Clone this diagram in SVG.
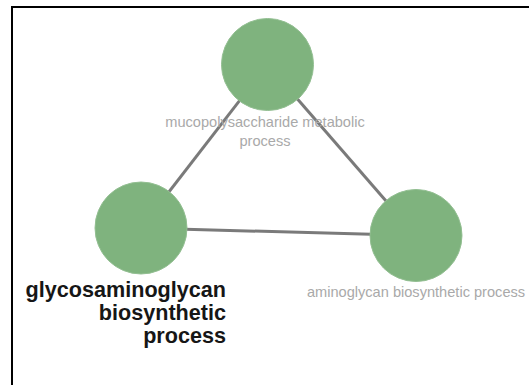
<svg xmlns="http://www.w3.org/2000/svg" width="529" height="385" viewBox="0 0 529 385">
  <style>
    .edge { stroke: #7a7a7a; stroke-width: 3; fill: none; }
    .node circle { fill: #7fb37e; stroke: #93bf92; stroke-width: 1; }
    .label { font-family: "Liberation Sans", Arial, sans-serif; font-size: 14.6px; fill: #a9a9a9; text-anchor: middle; }
    .label-main { font-family: "Liberation Sans", Arial, sans-serif; font-size: 21.6px; font-weight: bold; fill: #161616; text-anchor: end; }
  </style>
  <rect x="0" y="0" width="529" height="385" fill="#ffffff"/>
  <!-- frame -->
  <rect x="12" y="7" width="600" height="500" fill="none" stroke="#000" stroke-width="2"/>

  <g id="edges">
    <line class="edge" x1="267.5" y1="64.5" x2="141" y2="228"/>
    <line class="edge" x1="267.5" y1="64.5" x2="416" y2="235.5"/>
    <line class="edge" x1="141" y1="228" x2="416" y2="235.5"/>
  </g>

  <g id="node-mucopolysaccharide" class="node">
    <circle cx="267.5" cy="64.5" r="46"/>
    <text class="label" x="265" y="127">mucopolysaccharide metabolic</text>
    <text class="label" x="265" y="146">process</text>
  </g>

  <g id="node-glycosaminoglycan" class="node">
    <circle cx="141" cy="228" r="46"/>
    <text class="label-main" x="226" y="297">glycosaminoglycan</text>
    <text class="label-main" x="226" y="320">biosynthetic</text>
    <text class="label-main" x="226" y="343">process</text>
  </g>

  <g id="node-aminoglycan" class="node">
    <circle cx="416" cy="235.5" r="46"/>
    <text class="label" x="416" y="297">aminoglycan biosynthetic process</text>
  </g>
</svg>
